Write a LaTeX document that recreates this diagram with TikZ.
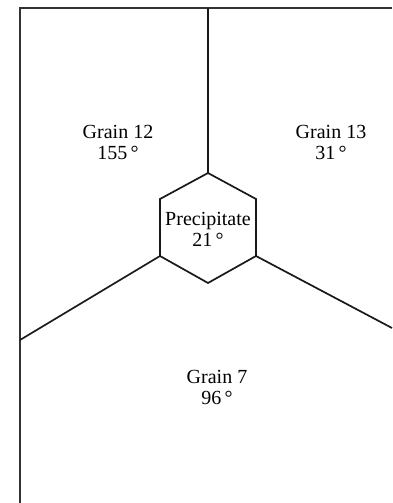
\documentclass[tikz,border=0pt]{standalone}
\usepackage{fontspec}
\setmainfont{Liberation Serif}
\begin{document}
\begin{tikzpicture}[x=1pt,y=-1pt,
  edge/.style={line width=1.7pt,black!90},
  lbl/.style={font=\fontsize{20}{21}\selectfont,align=center,inner sep=0pt}]
\useasboundingbox (0,0) rectangle (392,503);
% frame corners
\coordinate (tl) at (20,8);
\coordinate (tr) at (392,8);
\coordinate (bl) at (20,503);
% hexagon vertices
\coordinate (ht) at (208,173);
\coordinate (hur) at (256,199);
\coordinate (hlr) at (256,256);
\coordinate (hb) at (208,283);
\coordinate (hll) at (160,256);
\coordinate (hul) at (160,199);
% boundary ends
\coordinate (topend) at (208,8);
\coordinate (leftend) at (20,340);
\coordinate (rightend) at (392,328);
\draw[line width=2pt,black!80] (tr) -- (tl) -- (bl);
\draw[edge] (ht) -- (hur) -- (hlr) -- (hb) -- (hll) -- (hul) -- cycle;
\draw[edge] (ht) -- (topend);
\draw[edge] (hll) -- (leftend);
\draw[edge] (hlr) -- (rightend);
\node[lbl] (g12) at (118,142) {Grain 12\\155\,°};
\node[lbl] (g13) at (331,142) {Grain 13\\31\,°};
\node[lbl] (pr) at (208,229) {Precipitate\\21\,°};
\node[lbl] (g7) at (217,387) {Grain 7\\96\,°};
\end{tikzpicture}
\end{document}
